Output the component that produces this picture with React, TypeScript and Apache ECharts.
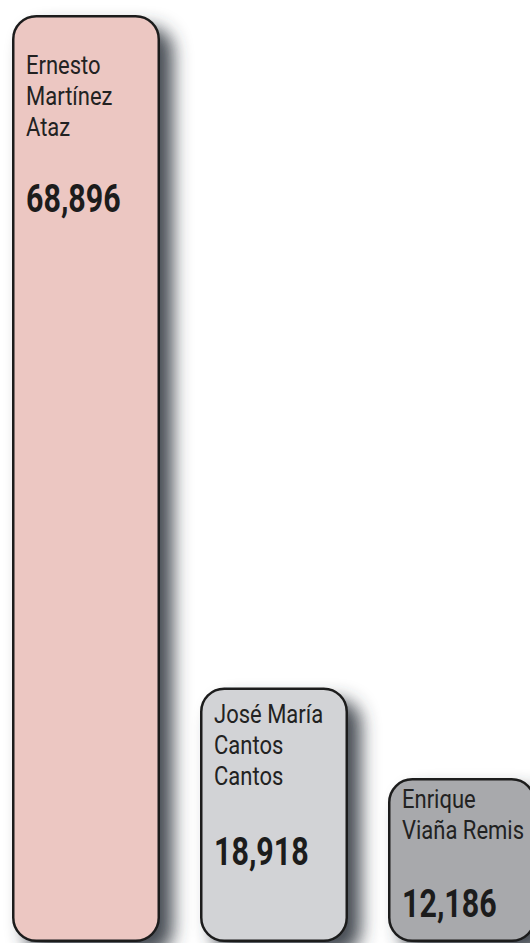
import React, { useEffect, useRef } from "react";
import * as echarts from "echarts";

const categories = ["Ernesto Martínez Ataz", "José María Cantos Cantos", "Enrique Viaña Remis"];
const nameLines = [["Ernesto", "Martínez", "Ataz"], ["José María", "Cantos", "Cantos"], ["Enrique", "Viaña Remis"]];
const values = [68896, 18918, 12186];
const valueLabels = ["68,896", "18,918", "12,186"];
const colors = ["#ecc7c2", "#d2d3d6", "#a8a9ac"];

// layout constants (px offsets from each bar's top)
const nameTop = [51, 27, 21];
const numberTop = [184, 164, 126];
const LINE = 31;
const BAR_W = 148;
const INSET = 14;
const FONT = "Roboto, 'Liberation Sans', sans-serif";

export default function App() {
  const ref = useRef<HTMLDivElement>(null);
  useEffect(() => {
    if (!ref.current) return;
    const chart = echarts.init(ref.current, null, { renderer: "svg" });
    chart.setOption({
      animation: false,
      backgroundColor: "#ffffff",
      grid: { left: 86, right: 68, top: 15, bottom: 1, containLabel: false },
      xAxis: { type: "category", data: categories, show: false, boundaryGap: false },
      yAxis: { type: "value", min: 0, max: 68896, show: false },
      series: [
        {
          type: "bar",
          clip: false,
          data: values.map((v, i) => ({ value: v, itemStyle: { color: colors[i] } })),
          barWidth: BAR_W,
          itemStyle: {
            borderRadius: 23,
            borderColor: "#1c1c1c",
            borderWidth: 2.5,
            shadowColor: "rgba(55,62,68,0.92)",
            shadowBlur: 18,
            shadowOffsetX: 13,
            shadowOffsetY: 12,
          },
        },
        {
          type: "custom",
          clip: false,
          z: 10,
          data: values.map((v, i) => [i, v]),
          renderItem: (params: any, api: any) => {
            const i = api.value(0) as number;
            const v = api.value(1) as number;
            const pt = api.coord([i, v]);
            const left = pt[0] - BAR_W / 2 + INSET;
            const top = pt[1];
            const children: any[] = nameLines[i].map((l, k) => ({
              type: "text",
              x: left,
              y: top + nameTop[i] + k * LINE,
              scaleX: 0.88,
              style: {
                text: l,
                fontFamily: FONT,
                fontSize: 25,
                fill: "#222222",
                verticalAlign: "middle",
                align: "left",
              },
            }));
            children.push({
              type: "text",
              x: left,
              y: top + numberTop[i],
              scaleX: 0.8,
              style: {
                text: valueLabels[i],
                fontFamily: FONT,
                fontSize: 38,
                fontWeight: "bold",
                fill: "#1c1c1c",
                verticalAlign: "middle",
                align: "left",
              },
            });
            return { type: "group", children };
          },
        },
      ],
    });
    return () => chart.dispose();
  }, []);
  return (
    <div
      ref={ref}
      style={{ position: "fixed", left: 0, top: 0, width: 530, height: 943 }}
    />
  );
}
